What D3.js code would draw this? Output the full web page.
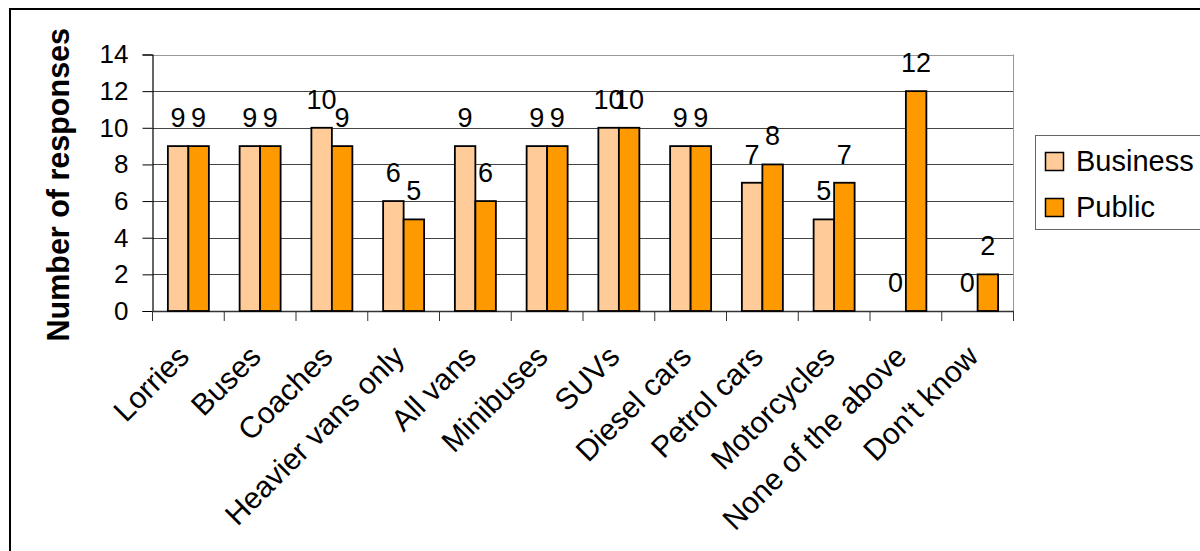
<!DOCTYPE html>
<html>
<head>
<meta charset="utf-8">
<script src="https://cdn.jsdelivr.net/npm/d3@7"></script>
<style>
  html, body { margin: 0; padding: 0; background: #fff; }
  svg { display: block; font-family: "Liberation Sans", Arial, sans-serif; }
</style>
</head>
<body>
<svg id="chart" width="1200" height="551"></svg>
<script>
const categories = ["Lorries", "Buses", "Coaches", "Heavier vans only", "All vans", "Minibuses", "SUVs", "Diesel cars", "Petrol cars", "Motorcycles", "None of the above", "Don't know"];
const seriesNames = ["Business", "Public"];
const businessValues = [9, 9, 10, 6, 9, 9, 10, 9, 7, 5, 0, 0];
const publicValues = [9, 9, 9, 5, 6, 9, 10, 9, 8, 7, 12, 2];
const yTicks = [0, 2, 4, 6, 8, 10, 12, 14];
const colors = ["#FFCC99", "#FF9900"];
const yTitle = "Number of responses";

const svg = d3.select("#chart");
const plot = { left: 152.5, right: 1013.5, top: 54.5, bottom: 311 };

// outer border
svg.append("rect").attr("x", 10).attr("y", 9).attr("width", 1220).attr("height", 580)
  .attr("fill", "none").attr("stroke", "#000").attr("stroke-width", 2);

const x = d3.scaleBand().domain(categories).range([plot.left, plot.right]).paddingInner(0).paddingOuter(0);
// gap width 150%: group = 2 bars, gap = 1.5 bars
const xs = d3.scaleBand().domain(seriesNames).range([x.bandwidth() * 0.75 / 3.5, x.bandwidth() * 2.75 / 3.5]);
const y = d3.scaleLinear().domain([0, 14]).range([plot.bottom, plot.top]);

// gridlines
svg.append("g").selectAll("line").data(yTicks.filter(d => d > 0)).join("line")
  .attr("x1", plot.left).attr("x2", plot.right)
  .attr("y1", d => Math.round(y(d)) + 0.5).attr("y2", d => Math.round(y(d)) + 0.5)
  .attr("stroke", d => d === 14 ? "#999" : "#444").attr("stroke-width", 1);
// right border of plot area
svg.append("line").attr("x1", plot.right).attr("x2", plot.right)
  .attr("y1", plot.top).attr("y2", plot.bottom).attr("stroke", "#999");

// y axis
const yAxis = d3.axisLeft(y).tickValues(yTicks).tickSize(10).tickPadding(14).tickFormat(d3.format("d"));
const yg = svg.append("g").attr("transform", `translate(${plot.left},0)`).call(yAxis);
yg.select(".domain").attr("stroke", "#000").attr("stroke-width", 1.2);
yg.selectAll(".tick line").attr("stroke", "#000");
yg.selectAll(".tick text").attr("font-size", 26).attr("fill", "#000")
  .attr("font-family", "Liberation Sans, Arial, sans-serif");

// x axis
const xAxis = d3.axisBottom(x).tickSize(0).tickFormat("");
const xg = svg.append("g").attr("transform", `translate(0,${plot.bottom})`).call(xAxis);
xg.select(".domain").attr("stroke", "#333").attr("stroke-width", 1.5);
xg.selectAll(".tick").remove();
const boundaries = categories.map(c => x(c)).concat([plot.right]);
svg.append("g").selectAll("line").data(boundaries).join("line")
  .attr("x1", d => d).attr("x2", d => d)
  .attr("y1", plot.bottom).attr("y2", plot.bottom + 10)
  .attr("stroke", "#333").attr("stroke-width", 1);

// x labels
svg.append("g").selectAll("text").data(categories).join("text")
  .attr("transform", d => `translate(${x(d) + x.bandwidth() / 2 - 5},${plot.bottom + 40}) rotate(-45)`)
  .attr("text-anchor", "end").attr("dy", "0.35em")
  .attr("font-size", 30).attr("fill", "#000")
  .text(d => d);

// bars
const rows = categories.map((c, i) => ({ cat: c, vals: [businessValues[i], publicValues[i]] }));
const groups = svg.append("g").selectAll("g").data(rows).join("g")
  .attr("transform", d => `translate(${x(d.cat)},0)`);
groups.selectAll("rect").data(d => d.vals.map((v, j) => ({ v, s: seriesNames[j], j }))).join("rect")
  .filter(d => d.v > 0)
  .attr("x", d => xs(d.s)).attr("width", xs.bandwidth())
  .attr("y", d => y(d.v)).attr("height", d => y(0) - y(d.v))
  .attr("fill", d => colors[d.j]).attr("stroke", "#000").attr("stroke-width", 1.8);
groups.selectAll("text").data(d => d.vals.map((v, j) => ({ v, s: seriesNames[j], j }))).join("text")
  .attr("x", d => xs(d.s) + xs.bandwidth() / 2)
  .attr("y", d => y(d.v) - 19)
  .attr("text-anchor", "middle").attr("font-size", 27).attr("fill", "#000")
  .text(d => d.v);

// y title
svg.append("text")
  .attr("transform", `translate(69,${(plot.top + plot.bottom) / 2 + 2}) rotate(-90)`)
  .attr("text-anchor", "middle").attr("font-size", 30.5).attr("font-weight", "bold").attr("fill", "#000")
  .text(yTitle);

// legend
const lg = svg.append("g");
lg.append("rect").attr("x", 1035.5).attr("y", 135.5).attr("width", 200).attr("height", 94)
  .attr("fill", "#fff").attr("stroke", "#666").attr("stroke-width", 1);
const items = lg.selectAll("g").data(seriesNames).join("g")
  .attr("transform", (d, i) => `translate(1045,${152 + i * 46})`);
items.append("rect").attr("x", 0.5).attr("y", 0.5).attr("width", 18).attr("height", 18)
  .attr("fill", (d, i) => colors[i]).attr("stroke", "#000").attr("stroke-width", 1.5);
items.append("text").attr("x", 31).attr("y", 19).attr("font-size", 29).attr("fill", "#000")
  .text(d => d);
</script>
</body>
</html>
